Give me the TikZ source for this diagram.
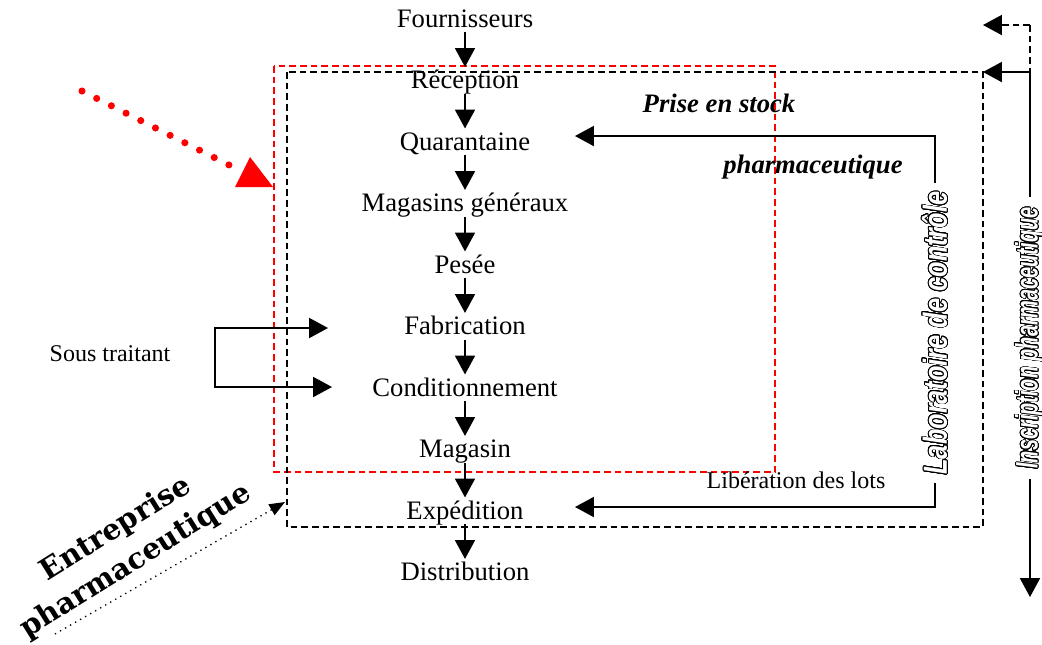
\documentclass[tikz,border=0pt]{standalone}
\usepackage{fontspec}
\setmainfont{Liberation Serif}
\newfontfamily\labfont{Liberation Sans}
\newfontfamily\entfont{DejaVu Serif}
\usepackage[copies]{contour}
\usetikzlibrary{arrows.meta}

% outlined lettering for the vertical labels
\contournumber{32}
\newcommand\outlined[1]{\contourlength{0.4pt}\contour{black}{\textcolor{white}{#1}}}

\begin{document}
\begin{tikzpicture}[x=0.45pt,y=-0.45pt,
  flowstep/.style={font=\fontsize{12}{14}\selectfont, anchor=base, inner sep=0pt,
                   text height=9.5pt, text depth=2.2pt},
  smalltxt/.style={font=\fontsize{10.8}{13}\selectfont, inner sep=0pt},
  stocktxt/.style={font=\bfseries\itshape\fontsize{12}{14}\selectfont, anchor=base, inner sep=0pt},
  link/.style={line width=0.8pt},
  arr/.style={link, -{Triangle[width=9pt,length=8.5pt]}},
  blackdash/.style={line width=0.8pt, dash pattern=on 3pt off 1.8pt},
  reddash/.style={blackdash, red},
  vlabel/.style={rotate=90, inner ysep=0pt}
]
\path[use as bounding box] (0,0) rectangle (1042,644);

% the two dashed frames
\draw[reddash] (274,66) rectangle (775,472);
\draw[blackdash] (287,72) rectangle (983,527);

% main flow
\node[flowstep] (f1)  at (465,27)    {Fournisseurs};
\node[flowstep] (f2)  at (465,88.5)  {Réception};
\node[flowstep] (f3)  at (465,150)   {Quarantaine};
\node[flowstep] (f4)  at (465,211.5) {Magasins généraux};
\node[flowstep] (f5)  at (465,273)   {Pesée};
\node[flowstep] (f6)  at (465,334.5) {Fabrication};
\node[flowstep] (f7)  at (465,396)   {Conditionnement};
\node[flowstep] (f8)  at (465,457.5) {Magasin};
\node[flowstep] (f9)  at (465,519)   {Expédition};
\node[flowstep] (f10) at (465,580.5) {Distribution};
\foreach \a/\b in {f1/f2,f2/f3,f3/f4,f4/f5,f5/f6,f6/f7,f7/f8,f8/f9,f9/f10}
  \draw[arr] (\a) -- (\b);

% stock labels
\node[stocktxt] (pse) at (719,112) {Prise en stock};
\node[stocktxt] (pph) at (813,173) {pharmaceutique};

% control laboratory
\node[vlabel, xscale=0.76, font=\labfont\bfseries\itshape\fontsize{15}{16}\selectfont,
      inner xsep=5pt] (lab) at (935,333) {\outlined{Laboratoire de contrôle}};
\coordinate (qtip) at (575,136);
\coordinate (etip) at (575,507);
\draw[arr] (lab.east) |- (qtip);
\draw[arr] (lab.west) |- (etip);
\node[smalltxt, anchor=base] (lib) at (796,488) {Libération des lots};

% pharmaceutical registration
\node[vlabel, xscale=0.64, font=\labfont\bfseries\itshape\fontsize{14}{15}\selectfont,
      inner xsep=7pt] (ins) at (1030,338) {\outlined{Inscription pharmaceutique}};
\coordinate (rtop) at (1030,25);
\coordinate (rmid) at (1030,72);
\coordinate (ttip) at (983,25);
\coordinate (btip) at (983,72);
\coordinate (rbot) at (1030,597);
\draw[blackdash, -{Triangle[width=9pt,length=8.5pt]}] (rtop) -- (ttip);
\draw[blackdash] (rtop) -- (rmid);
\draw[arr] (rmid) -- (btip);
\draw[link] (rmid) -- (ins.east);
\draw[arr] (ins.west) -- (rbot);

% subcontractor
\node[smalltxt] (st) at (110,354) {Sous traitant};
\coordinate (bt) at (215,328);
\coordinate (bb) at (215,387);
\coordinate (fabtip) at (328,328);
\coordinate (contip) at (332,387);
\draw[link, {Triangle[width=9pt,length=8.5pt]}-{Triangle[width=9pt,length=8.5pt]}]
  (fabtip) -- (bt) -- (bb) -- (contip);

% company label with its pointer
\node[rotate=32, align=center, inner sep=0pt,
      font=\entfont\bfseries\fontsize{13}{17}\selectfont] (ent) at (126,545)
      {Entreprise\\pharmaceutique};
\coordinate (entA) at (55,634);
\coordinate (entB) at (285,502);
\draw[line width=0.6pt, dotted, -{Triangle[width=5.5pt,length=7pt]}] (entA) -- (entB);

% red pointer to the inner frame
\coordinate (rdA) at (82,91);
\coordinate (rdB) at (243,172);
\draw[red, line width=3.2pt, line cap=round, dash pattern=on 0pt off 7.4pt] (rdA) -- (rdB);
\fill[red] (250,157) -- (273,187) -- (235,187) -- cycle;
\end{tikzpicture}
\end{document}
